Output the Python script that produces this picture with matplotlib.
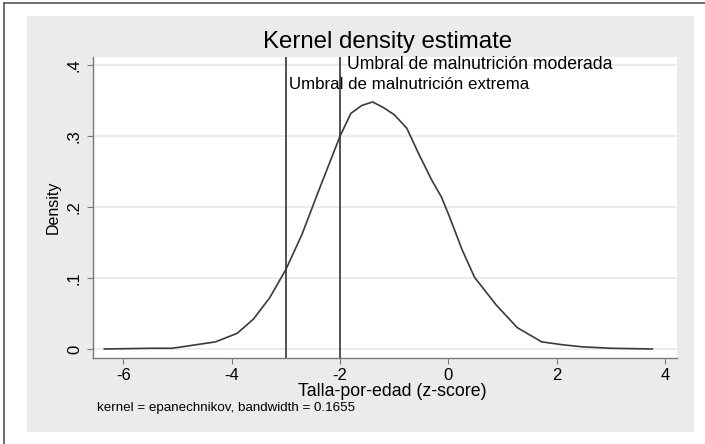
"""Kernel density of height-for-age z-scores, Stata-style look."""

import matplotlib

matplotlib.use("Agg")
import matplotlib.pyplot as plt
from matplotlib.lines import Line2D
from matplotlib.patches import Rectangle

plt.rcParams["font.family"] = ["Liberation Sans", "DejaVu Sans"]

# density curve
zscore = [-6.35, -5.5, -5.1, -4.3, -3.9, -3.6, -3.3, -3.0, -2.7, -2.4, -2.0,
          -1.8, -1.6, -1.4, -1.2, -1.0, -0.77, -0.55, -0.31, -0.13, 0.02,
          0.25, 0.48, 0.88, 1.27, 1.72, 2.1, 2.47, 3.0, 3.76]
density = [0.0, 0.001, 0.001, 0.010, 0.022, 0.042, 0.072, 0.112, 0.162, 0.222,
           0.300, 0.332, 0.343, 0.348, 0.340, 0.330, 0.311, 0.275, 0.238,
           0.214, 0.186, 0.140, 0.101, 0.062, 0.030, 0.010, 0.006, 0.003,
           0.001, 0.0]

thresholds = [-3, -2]
threshold_labels = ["Umbral de malnutrición extrema",
                    "Umbral de malnutrición moderada"]
xticks = [-6, -4, -2, 0, 2, 4]
yticks = [0, 0.1, 0.2, 0.3, 0.4]
ytick_labels = ["0", ".1", ".2", ".3", ".4"]

W, H = 705, 444
fig = plt.figure(figsize=(W / 100, H / 100), dpi=100)
fig.patch.set_facecolor("white")

# gray graph region
fig.patches.append(Rectangle((27 / W, 1 - 432 / H), 667 / W, 416 / H,
                             transform=fig.transFigure, facecolor="#ebebeb",
                             edgecolor="none", zorder=-5))
# outer frame (left and top visible)
fig.lines.append(Line2D([3.5 / W, 3.5 / W], [0, 1 - 3.5 / H],
                        transform=fig.transFigure, color="#555", lw=1.2,
                        zorder=-5))
fig.lines.append(Line2D([3.5 / W, 1], [1 - 3.5 / H, 1 - 3.5 / H],
                        transform=fig.transFigure, color="#555", lw=1.2,
                        zorder=-5))

ax = fig.add_axes([93 / W, 1 - 358 / H, 584 / W, 301 / H])
ax.set_facecolor("white")
ax.set_xlim(-6.559, 4.216)
ax.set_ylim(-0.0127, 0.4113)

ax.grid(axis="y", color="#e6e6e6", lw=1.1)
ax.set_axisbelow(True)

ax.plot(zscore, density, color="#3a3a3a", lw=1.2)
for t in thresholds:
    ax.axvline(t, color="#333", lw=1.2)

ax.text(-2.943, 0.373, threshold_labels[0], fontsize=12.2, va="center", ha="left")
ax.text(-1.873, 0.401, threshold_labels[1], fontsize=12.7, va="center", ha="left")

for s in ["top", "right"]:
    ax.spines[s].set_visible(False)
for s in ["left", "bottom"]:
    ax.spines[s].set_color("#7a7a7a")
    ax.spines[s].set_linewidth(1.0)

ax.set_xticks(xticks)
ax.set_xticklabels([str(v) for v in xticks])
ax.set_yticks(yticks)
ax.set_yticklabels(ytick_labels, rotation=90, va="center")
ax.tick_params(axis="both", direction="out", length=4, width=0.8,
               color="#7a7a7a", labelsize=12, labelcolor="black")
ax.tick_params(axis="x", pad=3.5)
ax.tick_params(axis="y", pad=4)

ax.set_xlabel("Talla-por-edad (z-score)", fontsize=12.8)
ax.xaxis.set_label_coords(0.512, -0.084)
ax.set_ylabel("Density", fontsize=11.5)
ax.yaxis.set_label_coords(-0.055, 0.5)

ax.text(0.505, 1.05, "Kernel density estimate", transform=ax.transAxes,
        fontsize=17.3, ha="center", va="center")
fig.text(97 / W, 1 - 408 / H, "kernel = epanechnikov, bandwidth = 0.1655",
         fontsize=9.6, ha="left", va="center")

fig.savefig("out.png", dpi=100)
